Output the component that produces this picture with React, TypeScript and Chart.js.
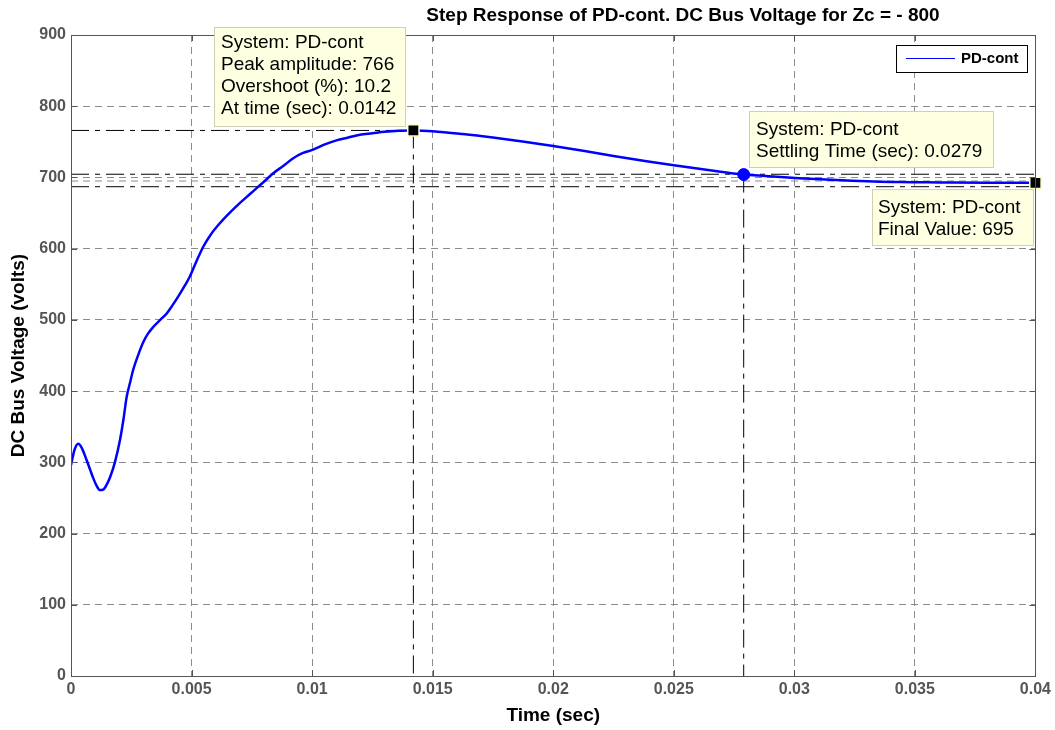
import React, { useEffect, useRef } from 'react';
import { Chart, registerables } from 'chart.js';

Chart.register(...registerables);

const chartTitle = 'Step Response of PD-cont. DC Bus Voltage for Zc = - 800';
const xAxisTitle = 'Time (sec)';
const yAxisTitle = 'DC Bus Voltage (volts)';
const seriesName = 'PD-cont';

const timeValues = [0, 0.00015, 0.0003, 0.00045, 0.00065, 0.0008, 0.00092, 0.00105, 0.0012, 0.00135, 0.0015, 0.00162, 0.00182, 0.00203, 0.00217, 0.00231, 0.00245, 0.00258, 0.0028, 0.003, 0.0032, 0.00341, 0.0037, 0.00397, 0.0042, 0.00445, 0.0047, 0.00493, 0.0052, 0.00549, 0.0058, 0.00618, 0.0066, 0.007, 0.0074, 0.0077, 0.008, 0.00839, 0.0088, 0.00922, 0.0096, 0.01004, 0.0105, 0.01101, 0.0115, 0.01198, 0.0125, 0.013, 0.0136, 0.0142, 0.015, 0.01625, 0.0175, 0.0188, 0.02, 0.0213, 0.0225, 0.0238, 0.025, 0.0265, 0.0279, 0.0288, 0.0302, 0.0313, 0.0324, 0.0344, 0.036, 0.038, 0.04];
const voltageValues = [296, 318, 326, 320, 303, 289, 278, 268, 261, 262, 270, 279, 300, 331, 359, 392, 412, 430, 452, 469, 481, 490, 500, 509, 520, 533, 547, 561, 582, 603, 620, 636, 651, 664, 676, 685, 694, 706, 716, 727, 734, 739, 746, 752, 756, 760, 762, 764, 765.5, 766, 765, 761, 756, 750, 744, 737, 730, 723, 717, 710, 704, 702, 699, 697, 695.5, 693.5, 693, 692.5, 692.5];

const xTicks = [0, 0.005, 0.01, 0.015, 0.02, 0.025, 0.03, 0.035, 0.04];
const yTicks = [0, 100, 200, 300, 400, 500, 600, 700, 800, 900];

const peakTime = 0.0142;
const peakValue = 766;
const settlingTime = 0.0279;
const settlingValue = 704;
const finalTime = 0.04;
const finalMarkerValue = 692.5;
const finalValue = 695;
const settlingBand = [704.5, 687];

const peakLabel = ['System: PD-cont', 'Peak amplitude: 766', 'Overshoot (%): 10.2', 'At time (sec): 0.0142'];
const settlingLabel = ['System: PD-cont', 'Settling Time (sec): 0.0279'];
const finalLabel = ['System: PD-cont', 'Final Value: 695'];

const FONT = '"Liberation Sans", Arial, sans-serif';

const decorPlugin = {
  id: 'decor',
  afterDraw(chart: any) {
    const { ctx, chartArea: a } = chart;
    const xs = chart.scales.x;
    const ys = chart.scales.y;
    ctx.save();
    // frame
    ctx.strokeStyle = '#555555';
    ctx.lineWidth = 1;
    ctx.setLineDash([]);
    ctx.strokeRect(Math.round(a.left) + 0.5, Math.round(a.top) + 0.5, Math.round(a.right - a.left), Math.round(a.bottom - a.top));
    // inner ticks
    ctx.beginPath();
    xTicks.forEach((t) => {
      const px = Math.round(xs.getPixelForValue(t)) + 0.5;
      ctx.moveTo(px, a.bottom); ctx.lineTo(px, a.bottom - 6);
      ctx.moveTo(px, a.top); ctx.lineTo(px, a.top + 6);
    });
    yTicks.forEach((v) => {
      const py = Math.round(ys.getPixelForValue(v)) + 0.5;
      ctx.moveTo(a.left, py); ctx.lineTo(a.left + 6, py);
      ctx.moveTo(a.right, py); ctx.lineTo(a.right - 6, py);
    });
    ctx.stroke();

    // title
    ctx.fillStyle = '#000';
    ctx.font = `bold 19px ${FONT}`;
    ctx.textAlign = 'center';
    ctx.textBaseline = 'middle';
    ctx.fillText(chartTitle, 683, 16);

    // legend
    ctx.fillStyle = '#ffffff';
    ctx.fillRect(896.5, 45.5, 131, 27);
    ctx.strokeStyle = '#000';
    ctx.strokeRect(896.5, 45.5, 131, 27);
    ctx.strokeStyle = '#0000ff';
    ctx.beginPath();
    ctx.moveTo(906, 58.5); ctx.lineTo(955, 58.5);
    ctx.stroke();
    ctx.fillStyle = '#000';
    ctx.font = `bold 15px ${FONT}`;
    ctx.textAlign = 'left';
    ctx.fillText(seriesName, 961, 59);

    // data tip boxes
    const box = (x: number, y: number, w: number, h: number, lines: string[], tx: number, ty: number) => {
      ctx.fillStyle = '#ffffe1';
      ctx.fillRect(x, y, w, h);
      ctx.strokeStyle = '#cfcfb8';
      ctx.lineWidth = 1;
      ctx.strokeRect(x + 0.5, y + 0.5, w - 1, h - 1);
      ctx.fillStyle = '#000';
      ctx.font = `19px ${FONT}`;
      ctx.textAlign = 'left';
      ctx.textBaseline = 'middle';
      lines.forEach((s, i) => ctx.fillText(s, tx, ty + i * 22));
    };
    box(214, 27, 192, 100, peakLabel, 221, 43);
    box(749, 111, 245, 57, settlingLabel, 756, 130);
    box(872, 189, 162, 57, finalLabel, 878, 208);
    ctx.restore();
  },
};

export default function App() {
  const ref = useRef<HTMLCanvasElement>(null);
  useEffect(() => {
    const canvas = ref.current;
    if (!canvas) return;
    const curve = timeValues.map((t, i) => ({ x: t, y: voltageValues[i] }));
    const refStyle = {
      type: 'line' as const,
      borderColor: '#000000',
      borderWidth: 1,
      borderDash: [18, 6, 5, 6],
      pointRadius: 0,
      fill: false,
      order: 3,
    };
    const chart = new Chart(canvas, {
      type: 'line',
      data: {
        datasets: [
          {
            label: seriesName,
            data: curve,
            borderColor: '#0000ff',
            borderWidth: 2.5,
            pointRadius: 0,
            cubicInterpolationMode: 'monotone',
            fill: false,
            order: 1,
          },
          { ...refStyle, data: [{ x: 0, y: peakValue }, { x: peakTime, y: peakValue }] },
          { ...refStyle, data: [{ x: peakTime, y: peakValue }, { x: peakTime, y: 0 }] },
          { ...refStyle, data: [{ x: settlingTime, y: settlingValue }, { x: settlingTime, y: 0 }] },
          { ...refStyle, data: [{ x: 0, y: settlingBand[0] }, { x: 0.04, y: settlingBand[0] }] },
          { ...refStyle, data: [{ x: 0, y: settlingBand[1] }, { x: 0.04, y: settlingBand[1] }] },
          {
            ...refStyle,
            borderColor: '#8c8c8c',
            borderDash: [7, 5],
            data: [{ x: 0, y: finalValue }, { x: 0.04, y: finalValue }],
          },
          {
            data: [{ x: peakTime, y: peakValue }, { x: finalTime, y: finalMarkerValue }],
            showLine: false,
            pointStyle: 'rect',
            pointRadius: 8,
            pointBackgroundColor: '#000000',
            pointBorderColor: '#ffffc8',
            pointBorderWidth: 1.5,
            clip: false,
            order: 0,
          },
          {
            data: [{ x: settlingTime, y: settlingValue }],
            showLine: false,
            pointStyle: 'circle',
            pointRadius: 6,
            pointBackgroundColor: '#0000ff',
            pointBorderColor: '#0000ff',
            clip: false,
            order: 0,
          },
        ] as any,
      },
      options: {
        responsive: false,
        animation: false,
        events: [],
        layout: { padding: { top: 35, right: 19, left: 0, bottom: 0 } },
        plugins: { legend: { display: false }, tooltip: { enabled: false }, title: { display: false } },
        scales: {
          x: {
            type: 'linear',
            min: 0,
            max: 0.04,
            afterFit: (s: any) => { s.height = 54; },
            afterBuildTicks: (s: any) => { s.ticks = xTicks.map((v) => ({ value: v })); },
            ticks: {
              color: '#555555',
              font: { family: FONT, size: 16, weight: 'bold' },
              padding: 4,
              maxRotation: 0,
              autoSkip: false,
              callback: (v: any) => String(parseFloat(Number(v).toFixed(4))),
            },
            grid: { color: '#8c8c8c', lineWidth: 1, drawTicks: false },
            border: { display: false, dash: [7, 5] },
            title: {
              display: true,
              text: xAxisTitle,
              color: '#000',
              font: { family: FONT, size: 19, weight: 'bold' },
              padding: { top: 0, bottom: 3 },
            },
          },
          y: {
            type: 'linear',
            min: 0,
            max: 900,
            afterFit: (s: any) => { s.width = 71; },
            afterBuildTicks: (s: any) => { s.ticks = yTicks.map((v) => ({ value: v })); },
            ticks: {
              color: '#555555',
              font: { family: FONT, size: 16, weight: 'bold' },
              padding: 5,
              autoSkip: false,
            },
            grid: { color: '#8c8c8c', lineWidth: 1, drawTicks: false },
            border: { display: false, dash: [7, 5] },
            title: {
              display: true,
              text: yAxisTitle,
              color: '#000',
              font: { family: FONT, size: 19, weight: 'bold' },
              padding: { top: 7, bottom: 0 },
            },
          },
        },
      },
      plugins: [decorPlugin],
    });
    return () => chart.destroy();
  }, []);
  return (
    <div style={{ position: 'absolute', left: 0, top: 0, width: 1055, height: 730, background: '#fff' }}>
      <canvas ref={ref} width={1055} height={730} style={{ display: 'block' }} />
    </div>
  );
}
